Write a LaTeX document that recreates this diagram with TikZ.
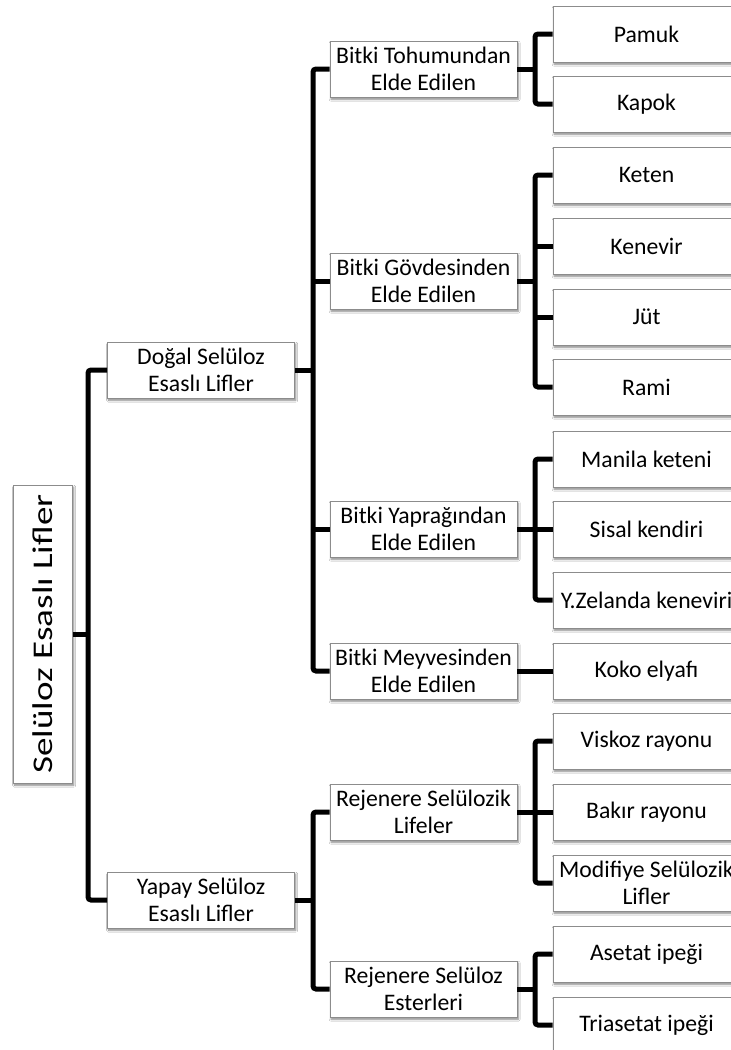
\documentclass[tikz,border=0pt]{standalone}
\usepackage{fontspec}
\setmainfont{Carlito}
\usetikzlibrary{shadows.blur}
\definecolor{boxgray}{RGB}{140,140,140}
\begin{document}
\begin{tikzpicture}[x=1pt,y=-1pt,
  box/.style={draw=boxgray, line width=0.8pt, fill=white, minimum width=187pt,
    minimum height=56pt, inner sep=0pt, align=center,
    font=\fontsize{23.7}{26.5}\selectfont,
    blur shadow={shadow xshift=1.2pt, shadow yshift=-2.2pt, shadow blur steps=6,
      shadow blur radius=2pt, shadow opacity=50}},
  rootbox/.style={box, minimum width=298pt, minimum height=59pt},
  conn/.style={line width=5pt},
  trunk/.style={line width=5pt, rounded corners=3pt}]
\clip (0,0) rectangle (731,1050);
\fill[white] (0,0) rectangle (731,1050);
% trunk positions
\coordinate (t1) at (88,0);
\coordinate (t2) at (313,0);
\coordinate (t3) at (535,0);
% nodes
\node[rootbox, rotate=90] (root) at (43,634)
  {\scalebox{1.3}[1]{\fontsize{28.5}{30}\selectfont Selüloz Esaslı Lifler}};
\node[box] (dogal) at (201,370) {Doğal Selüloz\\Esaslı Lifler};
\node[box] (yapay) at (201,900) {Yapay Selüloz\\Esaslı Lifler};
\node[box] (tohum) at (423.5,69) {Bitki Tohumundan\\Elde Edilen};
\node[box] (govde) at (423.5,281) {Bitki Gövdesinden\\Elde Edilen};
\node[box] (yaprak) at (423.5,529) {Bitki Yaprağından\\Elde Edilen};
\node[box] (meyve) at (423.5,671) {Bitki Meyvesinden\\Elde Edilen};
\node[box] (rejsel) at (423.5,812) {Rejenere Selülozik\\Lifeler};
\node[box] (rejest) at (423.5,989) {Rejenere Selüloz\\Esterleri};
\node[box] (pamuk) at (646.5,34) {Pamuk};
\node[box] (kapok) at (646.5,104) {Kapok};
\node[box] (keten) at (646.5,175) {Keten};
\node[box] (kenevir) at (646.5,246) {Kenevir};
\node[box] (jut) at (646.5,317) {Jüt};
\node[box] (rami) at (646.5,387) {Rami};
\node[box] (manila) at (646.5,459) {Manila keteni};
\node[box] (sisal) at (646.5,529) {Sisal kendiri};
\node[box] (zelanda) at (646.5,600) {Y.Zelanda keneviri};
\node[box] (koko) at (646.5,671) {Koko elyafı};
\node[box] (viskoz) at (646.5,741) {Viskoz rayonu};
\node[box] (bakir) at (646.5,812) {Bakır rayonu};
\node[box] (modif) at (646.5,883) {Modifiye Selülozik\\Lifler};
\node[box] (asetat) at (646.5,954) {Asetat ipeği};
\node[box] (triasetat) at (646.5,1025) {Triasetat ipeği};
% connectors: root
\draw[conn] (root.south) -- (root.south -| t1);
\draw[trunk] (dogal.west) -- (dogal.west -| t1) -- (yapay.west -| t1) -- (yapay.west);
% level 1
\draw[conn] (dogal.east) -- (dogal.east -| t2);
\draw[trunk] (tohum.west) -- (tohum.west -| t2) -- (meyve.west -| t2) -- (meyve.west);
\foreach \c in {govde,yaprak}
  \draw[conn] (\c.west -| t2) -- (\c.west);
\draw[conn] (yapay.east) -- (yapay.east -| t2);
\draw[trunk] (rejsel.west) -- (rejsel.west -| t2) -- (rejest.west -| t2) -- (rejest.west);
% level 2
\draw[conn] (tohum.east) -- (tohum.east -| t3);
\draw[trunk] (pamuk.west) -- (pamuk.west -| t3) -- (kapok.west -| t3) -- (kapok.west);
\draw[conn] (govde.east) -- (govde.east -| t3);
\draw[trunk] (keten.west) -- (keten.west -| t3) -- (rami.west -| t3) -- (rami.west);
\foreach \c in {kenevir,jut}
  \draw[conn] (\c.west -| t3) -- (\c.west);
\draw[conn] (yaprak.east) -- (yaprak.east -| t3);
\draw[trunk] (manila.west) -- (manila.west -| t3) -- (zelanda.west -| t3) -- (zelanda.west);
\draw[conn] (sisal.west -| t3) -- (sisal.west);
\draw[conn] (meyve.east) -- (koko.west);
\draw[conn] (rejsel.east) -- (rejsel.east -| t3);
\draw[trunk] (viskoz.west) -- (viskoz.west -| t3) -- (modif.west -| t3) -- (modif.west);
\draw[conn] (bakir.west -| t3) -- (bakir.west);
\draw[conn] (rejest.east) -- (rejest.east -| t3);
\draw[trunk] (asetat.west) -- (asetat.west -| t3) -- (triasetat.west -| t3) -- (triasetat.west);
\end{tikzpicture}
\end{document}
